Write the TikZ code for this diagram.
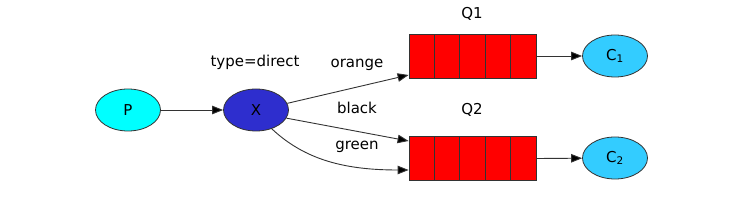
\documentclass[tikz,border=0pt]{standalone}
\usepackage{fontspec}
\setmainfont{DejaVu Sans}
\usetikzlibrary{shapes.geometric,arrows.meta}
\definecolor{pcol}{HTML}{00FFFF}
\definecolor{xcol}{HTML}{2E2ECE}
\definecolor{ccol}{HTML}{33CCFF}
\definecolor{qcol}{HTML}{FF0000}
\definecolor{edgecol}{HTML}{333333}
\begin{document}
\begin{tikzpicture}[x=1pt,y=-1pt,
  every node/.style={font=\fontsize{15}{17}\selectfont},
  ell/.style={ellipse,draw=edgecol,line width=0.8pt,minimum width=65pt,minimum height=42pt,inner sep=0pt},
  qcell/.style={draw=edgecol,fill=qcol,line width=0.8pt,minimum width=25.4pt,minimum height=44pt,inner sep=0pt},
  conn/.style={draw=edgecol,line width=0.9pt,-{Triangle[length=11pt,width=8.5pt,fill=black]}},
  lbl/.style={inner sep=0pt}]
\useasboundingbox (0,0) rectangle (747,216);
\node[ell,fill=pcol] (P) at (128,110) {P};
\node[ell,fill=xcol] (X) at (256,110) {X};
\node[ell,fill=ccol] (C1) at (615,56) {C\textsubscript{1}};
\node[ell,fill=ccol] (C2) at (615,158) {C\textsubscript{2}};
\foreach \i in {0,...,4}{
  \node[qcell] (qa\i) at ({421.7+25.4*\i},56) {};
  \node[qcell] (qb\i) at ({421.7+25.4*\i},158.5) {};
}
\node[lbl] (Q1) at (472,14) {Q1};
\node[lbl] (Q2) at (472,110) {Q2};
\node[lbl] (td) at (255,62) {type=direct};
\node[lbl] (lo) at (357,65) {orange};
\node[lbl] (lb) at (357,108) {black};
\node[lbl] (lg) at (357,147) {green};
\coordinate (q1in) at ([yshift=-19pt]qa0.west);
\coordinate (q2black) at ([yshift=17.5pt]qb0.west);
\coordinate (q2green) at ([yshift=-11.5pt]qb0.west);
\draw[conn] (P) -- (X);
\draw[conn] (X.12) -- (q1in);
\draw[conn] (X.-15) -- (q2black);
\draw[conn] (X.-50) .. controls (305,160) and (345,170) .. (q2green);
\draw[conn] (qa4.east) -- (C1);
\draw[conn] (qb4.east) -- (C2);
\end{tikzpicture}
\end{document}
